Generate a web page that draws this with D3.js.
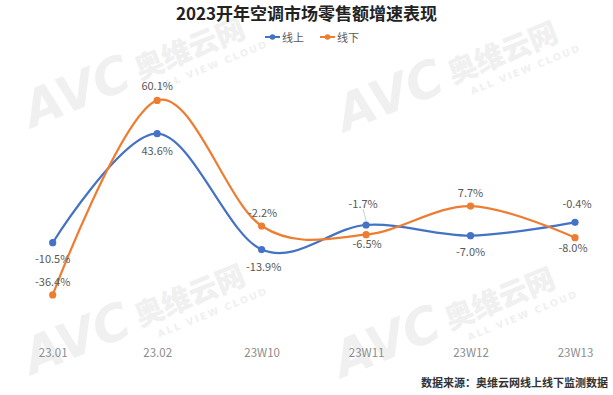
<!DOCTYPE html>
<html><head><meta charset="utf-8">
<script src="https://cdn.jsdelivr.net/npm/d3@7"></script>
<style>body{margin:0;background:#fff}svg{display:block}</style>
</head><body><svg id="c" width="613" height="395"></svg>
<script>
const categories = ["23.01","23.02","23W10","23W11","23W12","23W13"];
const onlineValues = [-10.5, 43.6, -13.9, -1.7, -7.0, -0.4];
const offlineValues = [-36.4, 60.1, -2.2, -6.5, 7.7, -8.0];
const seriesNames = ["线上","线下"];
const titleText = "2023开年空调市场零售额增速表现";
const sourceText = "数据来源：奥维云网线上线下监测数据";
const yDomain = [-60, 80];

// label placement config (styling)
const onlineLabelOffset = [[0,15.5],[0,16.3],[2,16.7],[-3,-22],[0,15],[2,-19]];
const offlineLabelOffset = [[0,-13.6],[0,-15],[1,-14],[1,8.7],[0,-14],[-2,9.4]];

const svg = d3.select("#c");
const FONT = "'Noto Sans CJK SC','Noto Sans',sans-serif";

// watermarks
const wm = [[32,128],[345,132],[32,375],[342,378]];
wm.forEach(([x,y])=>{
  const g = svg.append("g").attr("transform",`translate(${x},${y}) rotate(-22)`).attr("fill","#f0f0f0");
  g.append("text").attr("x",0).attr("y",0).attr("font-family","'DejaVu Sans',sans-serif")
    .attr("font-weight",900).attr("font-style","italic").attr("font-size",50).text("AVC");
  g.append("text").attr("x",118).attr("y",-4).attr("font-family",FONT)
    .attr("font-weight",900).attr("font-size",29).text("奥维云网");
  g.append("text").attr("x",132).attr("y",13).attr("font-family","'DejaVu Sans',sans-serif")
    .attr("font-weight",700).attr("font-size",9.5).attr("letter-spacing",2).text("ALL VIEW CLOUD");
});

const x = d3.scalePoint().domain(categories).range([52.7, 575]);
const y = d3.scaleLinear().domain(yDomain).range([342.5, 60.3]);

// title
svg.append("text").attr("x",306.5).attr("y",12).attr("text-anchor","middle")
  .attr("dominant-baseline","central").attr("font-family",FONT).attr("font-weight",700)
  .attr("font-size",17).attr("fill","#222").text(titleText);

// legend
const colors = ["#4472C4","#ED7D31"];
const legendX = [265, 320];
seriesNames.forEach((n,i)=>{
  const g = svg.append("g").attr("transform",`translate(${legendX[i]},37)`);
  g.append("line").attr("x1",0).attr("x2",15).attr("stroke",colors[i]).attr("stroke-width",2);
  g.append("circle").attr("cx",7.5).attr("r",2.8).attr("fill",colors[i]);
  g.append("text").attr("x",17).attr("dominant-baseline","central").attr("font-family",FONT)
    .attr("font-size",11).attr("fill","#595959").text(n);
});

// x axis labels
const xAxis = d3.axisBottom(x).tickSize(0).tickPadding(0);
const ax = svg.append("g").attr("transform","translate(0,349)").call(xAxis);
ax.select(".domain").remove();
ax.selectAll("text").attr("font-family",FONT).attr("font-size",11.5).attr("fill","#8c8c8c");

const line = d3.line().x((d,i)=>x(categories[i])).y(d=>y(d)).curve(d3.curveCardinal.tension(0));

const series = [
  {vals: onlineValues, color: colors[0], off: onlineLabelOffset},
  {vals: offlineValues, color: colors[1], off: offlineLabelOffset}
];

// leader line for -1.7% label
svg.append("line").attr("x1",x("23W11")-3).attr("y1",y(-1.7)-16).attr("x2",x("23W11")).attr("y2",y(-1.7)-4)
  .attr("stroke","#bfbfbf").attr("stroke-width",0.8);

series.forEach(s=>{
  svg.append("path").datum(s.vals).attr("d",line).attr("fill","none")
    .attr("stroke",s.color).attr("stroke-width",2.2);
  svg.selectAll(null).data(s.vals).enter().append("circle")
    .attr("cx",(d,i)=>x(categories[i])).attr("cy",d=>y(d)).attr("r",3.6).attr("fill",s.color);
});
series.forEach(s=>{
  svg.selectAll(null).data(s.vals).enter().append("text")
    .attr("x",(d,i)=>x(categories[i])+s.off[i][0]).attr("y",(d,i)=>y(d)+s.off[i][1])
    .attr("text-anchor","middle").attr("dominant-baseline","central")
    .attr("font-family",FONT).attr("font-size",11).attr("fill","#595959")
    .text(d=>d.toFixed(1)+"%");
});

// source
svg.append("text").attr("x",608).attr("y",382).attr("text-anchor","end")
  .attr("dominant-baseline","central").attr("font-family",FONT).attr("font-weight",700)
  .attr("font-size",11).attr("fill","#333").text(sourceText);
</script></body></html>
